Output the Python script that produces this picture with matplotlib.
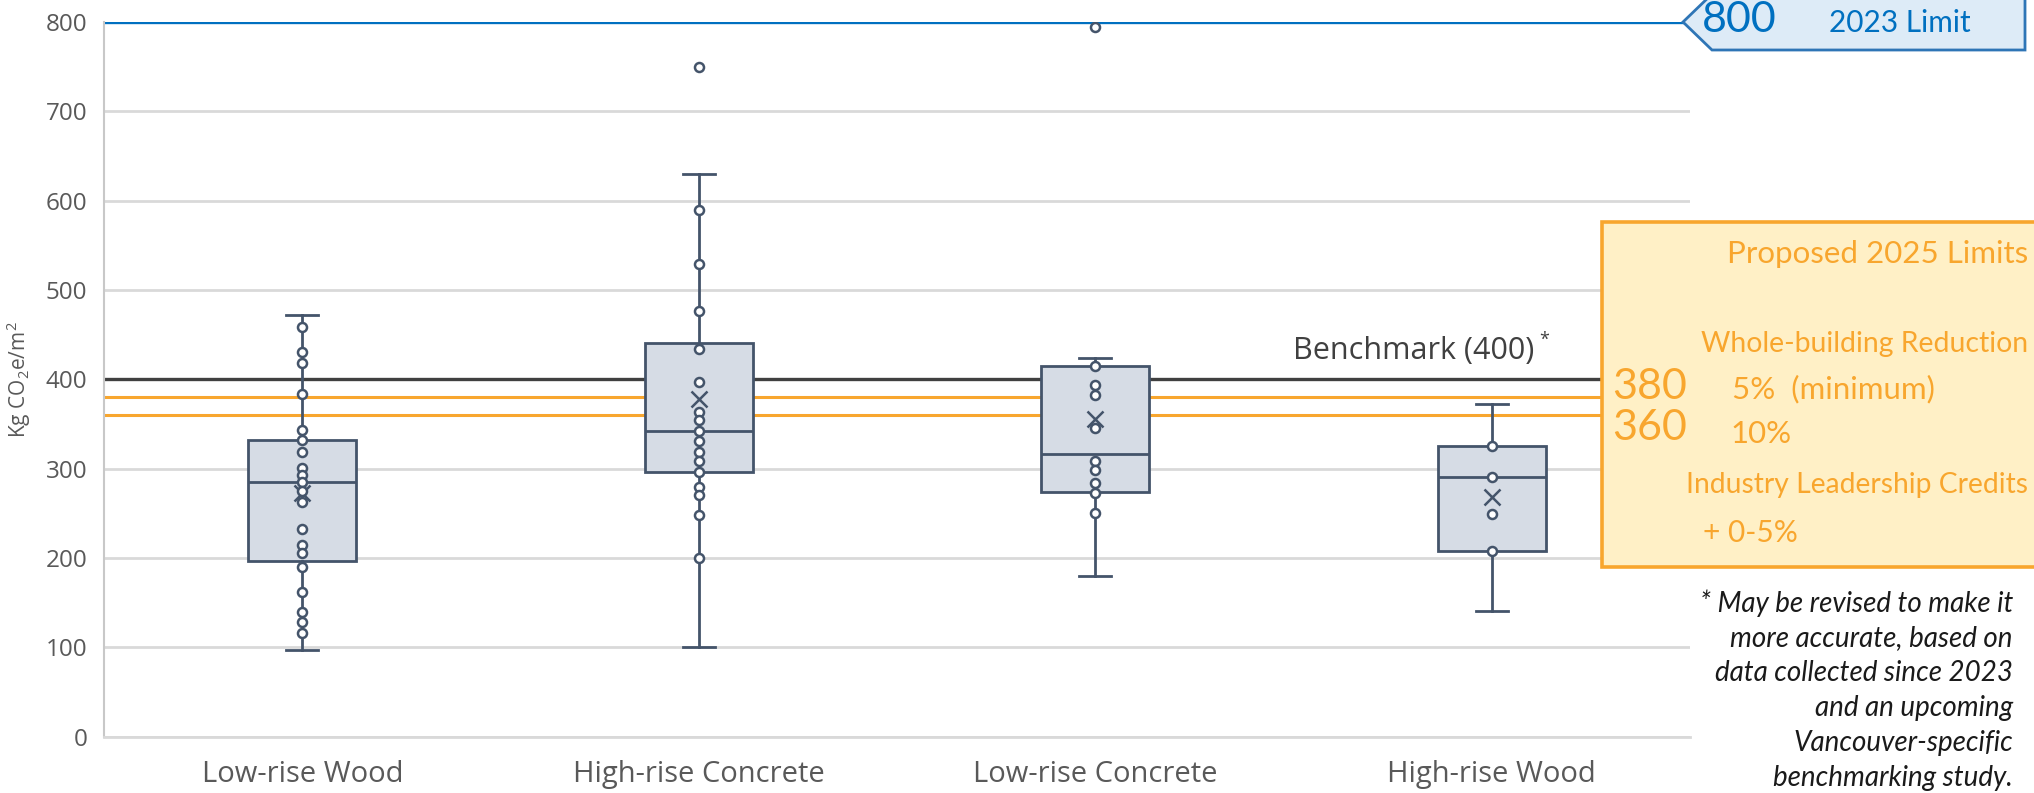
import matplotlib
matplotlib.use("Agg")
import matplotlib.pyplot as plt
from matplotlib.patches import Polygon, Rectangle

# ---- data -------------------------------------------------------------
categories = ["Low-rise Wood", "High-rise Concrete", "Low-rise Concrete", "High-rise Wood"]

whisker_low = [97, 100, 180, 141]
q1 = [197, 296, 274, 208]
median = [285, 342, 316, 291]
q3 = [332, 441, 415, 325]
whisker_high = [472, 630, 424, 372]
mean = [273, 378, 356, 268]

points_low_rise_wood = [459, 431, 418, 384, 343, 332, 319, 301, 293, 285, 275, 263,
                        232, 214, 206, 190, 162, 140, 128, 116]
points_high_rise_concrete = [589, 529, 476, 434, 397, 363, 354, 342, 331, 319, 308,
                             296, 279, 271, 248, 200]
points_low_rise_concrete = [415, 394, 382, 345, 309, 299, 284, 273, 250]
points_high_rise_wood = [325, 291, 249, 208]

outliers = [[], [750], [794], []]

y_ticks = [0, 100, 200, 300, 400, 500, 600, 700, 800]

limit_2023 = 800
benchmark = 400
proposed_limits = [380, 360]

# ---- style ------------------------------------------------------------
plt.rcParams["font.family"] = ["Open Sans", "DejaVu Sans"]
plt.rcParams["mathtext.fontset"] = "custom"
plt.rcParams["mathtext.rm"] = "Open Sans"
plt.rcParams["mathtext.it"] = "Open Sans:italic"

W, H = 2034, 793
fig = plt.figure(figsize=(W / 100, H / 100), dpi=100)

ax_l, ax_r, ax_t, ax_b = 104, 1690, 22, 736.6
ax = fig.add_axes([ax_l / W, 1 - ax_b / H, (ax_r - ax_l) / W, (ax_b - ax_t) / H])

slate = "#44546A"
grid_c = "#D9D9D9"
orange = "#F8A62E"
blue = "#0070C0"

ax.set_ylim(0, 800)
ax.set_xlim(0.5, len(categories) + 0.5)
ax.set_yticks(y_ticks)
ax.set_yticklabels([str(v) for v in y_ticks], fontsize=17.5, color="#595959")
ax.set_xticks(range(1, len(categories) + 1))
ax.set_xticklabels(categories, fontsize=21, color="#595959")
ax.tick_params(axis="both", length=0)
ax.tick_params(axis="y", pad=12)
ax.tick_params(axis="x", pad=17)
ax.grid(axis="y", color=grid_c, lw=2.0, zorder=0)
ax.set_axisbelow(True)
for side in ["top", "right"]:
    ax.spines[side].set_visible(False)
ax.spines["left"].set_color("#C8C8C8")
ax.spines["left"].set_linewidth(1.5)
ax.spines["bottom"].set_color(grid_c)
ax.spines["bottom"].set_linewidth(2.0)

ax.set_ylabel("Kg CO$_2$e/m$^2$", fontsize=15, color="#595959")
ax.yaxis.set_label_coords(-0.0448, 0.5)

# reference lines
ax.axhline(limit_2023, color=blue, lw=2.4, zorder=2)
ax.axhline(benchmark, color="#404040", lw=2.4, zorder=2)
for v in proposed_limits:
    ax.axhline(v, color=orange, lw=2.2, zorder=2)

# box plots from the summary statistics
stats = []
for i, name in enumerate(categories):
    stats.append(dict(label=name, whislo=whisker_low[i], q1=q1[i], med=median[i],
                      q3=q3[i], whishi=whisker_high[i], mean=mean[i], fliers=[]))

ax.bxp(stats, positions=range(1, len(categories) + 1), widths=0.273,
       patch_artist=True, showmeans=True, showfliers=False,
       boxprops=dict(facecolor="#D6DCE5", edgecolor=slate, lw=2.0),
       medianprops=dict(color=slate, lw=2.0),
       whiskerprops=dict(color=slate, lw=2.0),
       capprops=dict(color=slate, lw=2.0),
       capwidths=0.08,
       meanprops=dict(marker="x", markeredgecolor=slate, markersize=11, mew=1.8),
       zorder=3)

all_points = [points_low_rise_wood, points_high_rise_concrete,
              points_low_rise_concrete, points_high_rise_wood]
for i, pts in enumerate(all_points):
    vals = pts + outliers[i]
    ax.plot([i + 1] * len(vals), vals, linestyle="none", marker="o", markersize=6.5,
            markerfacecolor="white", markeredgecolor=slate, mew=1.8, zorder=4)

# ---- annotation layer in pixel coordinates -----------------------------
ov = fig.add_axes([0, 0, 1, 1], facecolor="none")
ov.set_xlim(0, W)
ov.set_ylim(H, 0)
ov.axis("off")

ov.text(1293, 359, "Benchmark (400)", fontsize=22, color="#404040",
        ha="left", va="baseline")
ov.text(1539, 345, "*", fontsize=13, color="#404040", ha="left", va="baseline")

# 2023 limit callout
callout = Polygon([(1683, 22), (1712, -6), (2025, -6), (2025, 50), (1712, 50)],
                  closed=True, facecolor="#DDEBF7", edgecolor="#2E75B6", lw=2.0,
                  zorder=5)
ov.add_patch(callout)
ov.text(1702, 32, "800", fontsize=31, color=blue, family="Lato",
        ha="left", va="baseline", zorder=6)
ov.text(1829, 32, "2023 Limit", fontsize=21.5, color=blue, family="Lato",
        ha="left", va="baseline", zorder=6)

# proposed 2025 limits panel
panel = Rectangle((1602, 222), 460, 345, facecolor="#FFF0C6", edgecolor=orange,
                  lw=2.6, zorder=5)
ov.add_patch(panel)
txt = dict(color=orange, family="Lato", zorder=6, va="baseline")
ov.text(2028, 263, "Proposed 2025 Limits", fontsize=22.5, ha="right", **txt)
ov.text(2028, 352, "Whole-building Reduction", fontsize=20.4, ha="right", **txt)
ov.text(1612, 399, "380", fontsize=31, ha="left", **txt)
ov.text(1732, 398, "5%  (minimum)", fontsize=22.5, ha="left", **txt)
ov.text(1612, 440, "360", fontsize=31, ha="left", **txt)
ov.text(1730, 443, "10%", fontsize=22.5, ha="left", **txt)
ov.text(2028, 493, "Industry Leadership Credits", fontsize=20.3, ha="right", **txt)
ov.text(1703, 542, "+ 0-5%", fontsize=21.5, ha="left", **txt)

# footnote
note_lines = ["* May be revised to make it", "more accurate, based on",
              "data collected since 2023", "and an upcoming",
              "Vancouver-specific", "benchmarking study."]
for k, line in enumerate(note_lines):
    ov.text(2013, 603 + 35 * k, line, fontsize=20, style="italic",
            family="Lato", color="#1A1A1A", ha="right", va="center")

fig.savefig("out.png", dpi=100)
